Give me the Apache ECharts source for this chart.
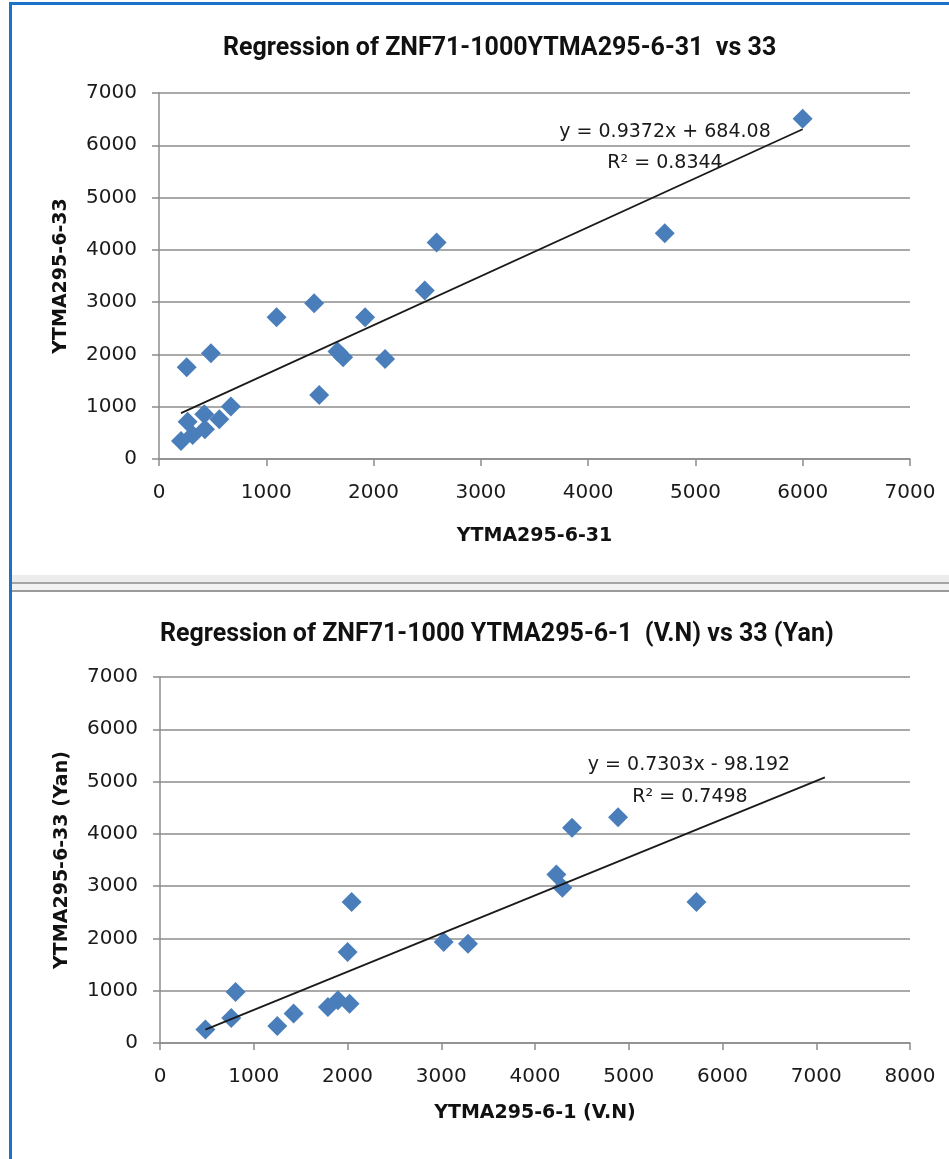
<!DOCTYPE html>
<html>
<head>
<meta charset="utf-8">
<script src="https://cdn.jsdelivr.net/npm/echarts@6/dist/echarts.min.js"></script>
<style>
html,body{margin:0;padding:0;background:#fff;}
#chart{width:949px;height:1159px;}
</style>
</head>
<body>
<div id="chart"></div>
<script>
// ---- data ----
const topTitle = 'Regression of ZNF71-1000YTMA295-6-31  vs 33';
const topXName = 'YTMA295-6-31';
const topYName = 'YTMA295-6-33';
const topX = [205, 258, 267, 314, 422, 428, 484, 562, 670, 1096, 1446, 1493, 1664, 1716, 1921, 2107, 2477, 2588, 4714, 5999];
const topY = [345, 1755, 714, 459, 855, 568, 2023, 759, 1002, 2712, 2980, 1225, 2054, 1946, 2712, 1914, 3222, 4141, 4320, 6508];
const topSlope = 0.9372, topIntercept = 684.08, topR2 = 0.8344;
const topEqText = 'y = 0.9372x + 684.08';
const topR2Text = 'R² = 0.8344';

const botTitle = 'Regression of ZNF71-1000 YTMA295-6-1  (V.N) vs 33 (Yan)';
const botXName = 'YTMA295-6-1 (V.N)';
const botYName = 'YTMA295-6-33 (Yan)';
const botX = [484, 760, 806, 1251, 1425, 1791, 1898, 2022, 2001, 2044, 3026, 3285, 4228, 4292, 4395, 4886, 5722];
const botY = [256, 478, 975, 325, 562, 688, 816, 752, 1740, 2696, 1931, 1900, 3224, 2970, 4117, 4316, 2696];
const botSlope = 0.7303, botIntercept = -98.192, botR2 = 0.7498;
const botTrendEnd = 7092; // trendline extended forward
const botEqText = 'y = 0.7303x - 98.192';
const botR2Text = 'R² = 0.7498';

const topXTicks = [0, 7000, 1000];
const topYTicks = [0, 7000, 1000];
const botXTicks = [0, 8000, 1000];
const botYTicks = [0, 7000, 1000];

// ---- build ----
const chart = echarts.init(document.getElementById('chart'), null, {renderer: 'canvas'});
const pair = (xs, ys) => xs.map((x, i) => [x, ys[i]]);
const trend = (a, b, x0, x1) => [[x0, a * x0 + b], [x1, a * x1 + b]];

const LABEL_FONT = 'DejaVu Sans';
const TITLE_FONT = 'Roboto';
const gridColor = '#8c8c8c';
const markerColor = '#4a7ebb';

function valAxis(ticks, name, gap, isX) {
  return {
    type: 'value', min: ticks[0], max: ticks[1], interval: ticks[2],
    name: name, nameLocation: 'middle', nameGap: gap,
    nameTextStyle: {fontFamily: LABEL_FONT, fontWeight: 'bold', fontSize: 19, color: '#111'},
    axisLine: {show: true, lineStyle: {color: gridColor, width: 1.5}},
    axisTick: {show: true, inside: false, length: 7, lineStyle: {color: gridColor, width: 1.5}},
    axisLabel: {fontFamily: LABEL_FONT, fontSize: 20, color: '#1a1a1a', margin: isX ? 24 : 22,
                formatter: v => String(v)},
    splitLine: {show: !isX, lineStyle: {color: gridColor, width: 1.5}}
  };
}

const option = {
  backgroundColor: '#ffffff',
  animation: false,
  title: [
    {text: topTitle, left: 218, top: 31,
     textStyle: {fontFamily: TITLE_FONT, fontWeight: 'bold', fontSize: 25, color: '#111'}},
    {text: botTitle, left: 155, top: 617,
     textStyle: {fontFamily: TITLE_FONT, fontWeight: 'bold', fontSize: 25, color: '#111'}}
  ],
  grid: [
    {left: 159, right: 39, top: 93, height: 366},
    {left: 160, right: 39, top: 677, height: 366}
  ],
  xAxis: [
    Object.assign(valAxis(topXTicks, topXName, 68, true), {gridIndex: 0}),
    Object.assign(valAxis(botXTicks, botXName, 61, true), {gridIndex: 1})
  ],
  yAxis: [
    Object.assign(valAxis(topYTicks, topYName, 88, false), {gridIndex: 0}),
    Object.assign(valAxis(botYTicks, botYName, 88, false), {gridIndex: 1})
  ],
  series: [
    {type: 'scatter', xAxisIndex: 0, yAxisIndex: 0, data: pair(topX, topY),
     symbol: 'diamond', symbolSize: 20, itemStyle: {color: markerColor, opacity: 1}, z: 3},
    {type: 'line', xAxisIndex: 0, yAxisIndex: 0,
     data: trend(topSlope, topIntercept, Math.min(...topX), Math.max(...topX)),
     symbol: 'none', lineStyle: {color: '#1a1a1a', width: 1.8}, z: 4, silent: true},
    {type: 'scatter', xAxisIndex: 1, yAxisIndex: 1, data: pair(botX, botY),
     symbol: 'diamond', symbolSize: 20, itemStyle: {color: markerColor, opacity: 1}, z: 3},
    {type: 'line', xAxisIndex: 1, yAxisIndex: 1,
     data: trend(botSlope, botIntercept, Math.min(...botX), botTrendEnd),
     symbol: 'none', lineStyle: {color: '#1a1a1a', width: 1.8}, z: 4, silent: true}
  ],
  graphic: [
    // equation labels
    {type: 'text', x: 665, y: 132, z: 10,
     style: {text: topEqText, font: '19px "DejaVu Sans"', fill: '#1a1a1a', align: 'center', verticalAlign: 'middle'}},
    {type: 'text', x: 665, y: 163, z: 10,
     style: {text: topR2Text, font: '19px "DejaVu Sans"', fill: '#1a1a1a', align: 'center', verticalAlign: 'middle'}},
    {type: 'text', x: 689, y: 765, z: 10,
     style: {text: botEqText, font: '19px "DejaVu Sans"', fill: '#1a1a1a', align: 'center', verticalAlign: 'middle'}},
    {type: 'text', x: 690, y: 797, z: 10,
     style: {text: botR2Text, font: '19px "DejaVu Sans"', fill: '#1a1a1a', align: 'center', verticalAlign: 'middle'}},
    // window separator between the two charts
    {type: 'rect', shape: {x: 11, y: 575, width: 938, height: 7}, style: {fill: '#ececec'}, z: 20},
    {type: 'rect', shape: {x: 11, y: 582, width: 938, height: 2}, style: {fill: '#a3a3a3'}, z: 20},
    {type: 'rect', shape: {x: 11, y: 584, width: 938, height: 6}, style: {fill: '#f2f2f2'}, z: 20},
    {type: 'rect', shape: {x: 11, y: 590, width: 938, height: 2}, style: {fill: '#9a9a9a'}, z: 20},
    // blue frame
    {type: 'rect', shape: {x: 9, y: 2, width: 940, height: 3}, style: {fill: '#1a73c9'}, z: 21},
    {type: 'rect', shape: {x: 9, y: 2, width: 3, height: 1157}, style: {fill: '#1a73c9'}, z: 21}
  ]
};
chart.setOption(option);
</script>
</body>
</html>
